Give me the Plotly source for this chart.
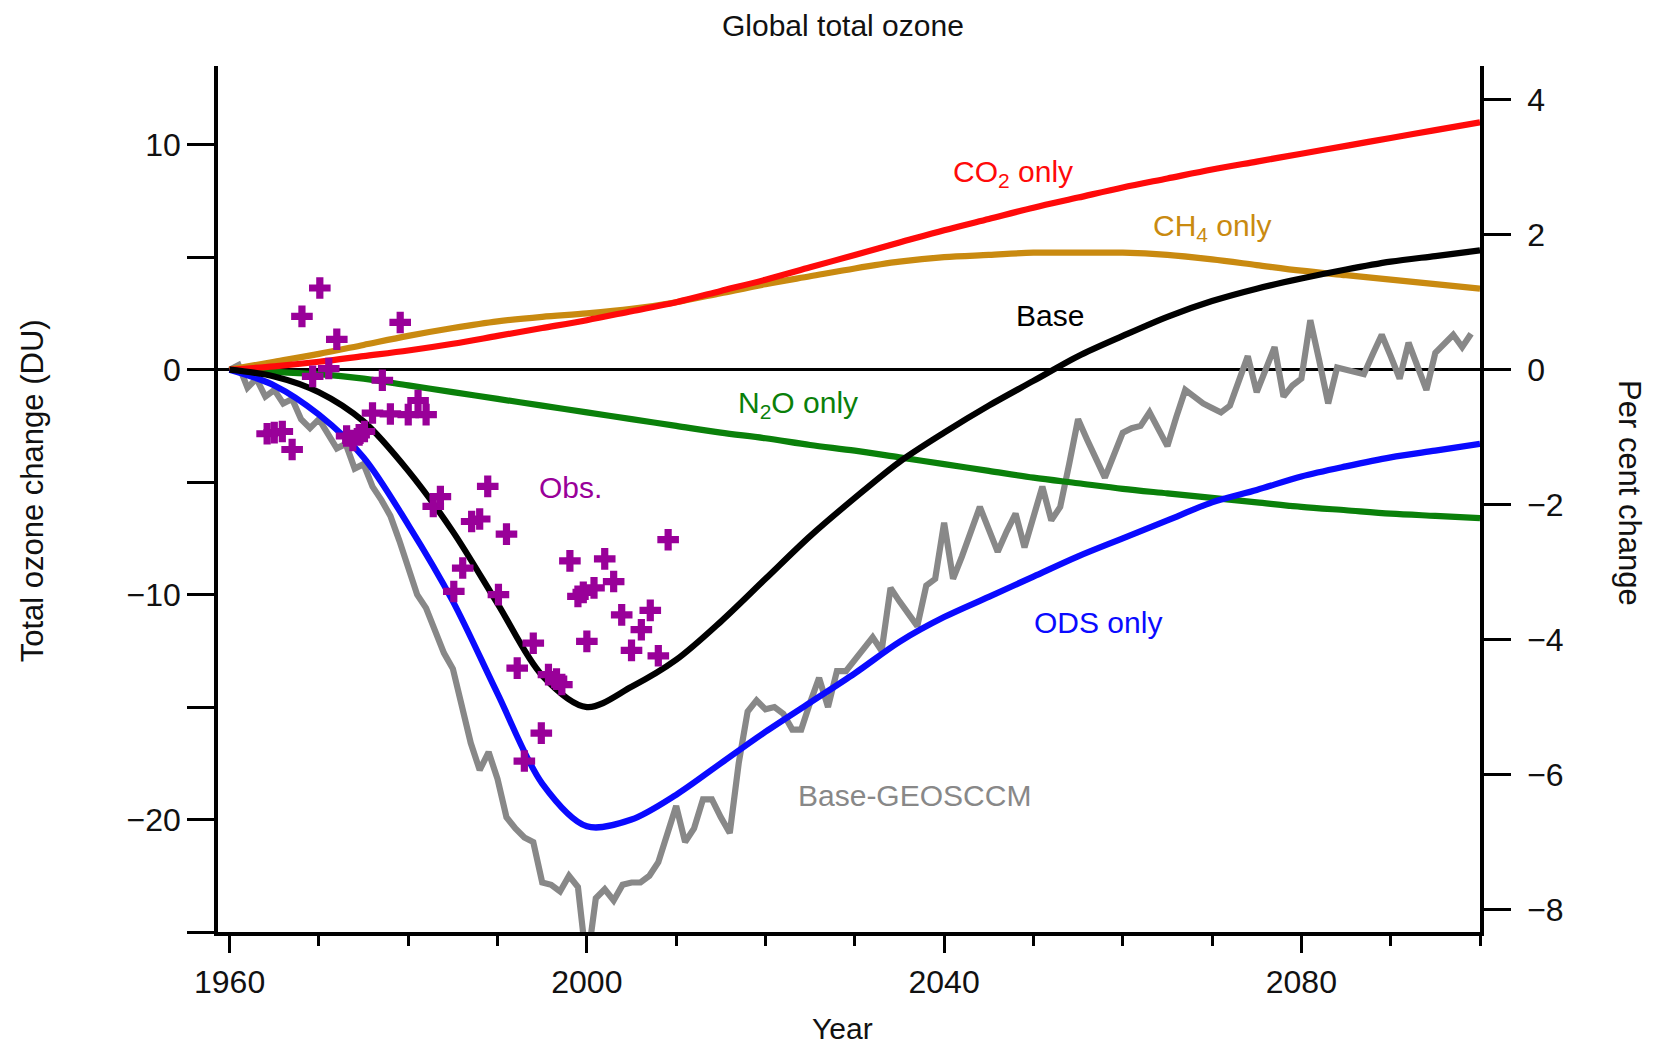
import plotly.graph_objects as go

# ---------------- data ----------------
years5 = list(range(1960, 2101, 5))

base = [0, -0.3, -1.0, -2.3, -4.5, -7.2, -10.4, -13.6, -15.0, -14.1, -12.9, -11.2, -9.3, -7.4,
        -5.7, -4.1, -2.8, -1.6, -0.5, 0.6, 1.5, 2.35, 3.05, 3.6, 4.05, 4.45, 4.8, 5.05, 5.3]
ods_only = [0, -0.7, -2.0, -3.9, -6.9, -10.3, -14.4, -18.4, -20.3, -20.0, -18.9, -17.5, -16.1, -14.8,
            -13.5, -12.1, -11.0, -10.1, -9.2, -8.3, -7.5, -6.7, -5.9, -5.35, -4.75, -4.3, -3.9, -3.6, -3.3]
co2_only = [0, 0.15, 0.35, 0.6, 0.85, 1.15, 1.5, 1.85, 2.2, 2.6, 3.0, 3.5, 4.0, 4.55, 5.1, 5.65,
            6.2, 6.7, 7.2, 7.65, 8.1, 8.5, 8.9, 9.25, 9.6, 9.95, 10.3, 10.65, 11.0]
ch4_only = [0, 0.35, 0.7, 1.1, 1.5, 1.85, 2.15, 2.35, 2.5, 2.7, 3.0, 3.4, 3.8, 4.15, 4.5, 4.8,
            5.0, 5.1, 5.2, 5.2, 5.2, 5.1, 4.9, 4.65, 4.4, 4.2, 4.0, 3.8, 3.6]
n2o_only = [0, -0.1, -0.2, -0.4, -0.7, -1.0, -1.3, -1.6, -1.9, -2.2, -2.5, -2.8, -3.05, -3.35,
            -3.6, -3.9, -4.2, -4.5, -4.8, -5.05, -5.3, -5.5, -5.7, -5.9, -6.1, -6.25, -6.4, -6.5, -6.6]

geos_years = list(range(1960, 2100))
base_geosccm = [
    0.0, 0.2, -0.8, -0.4, -1.2, -0.9, -1.5, -1.3, -2.2, -2.6,
    -2.2, -2.9, -3.5, -3.3, -4.4, -4.2, -5.2, -5.8, -6.5, -7.6,
    -8.8, -10.0, -10.6, -11.6, -12.6, -13.3, -15.0, -16.6, -17.8, -17.0,
    -18.2, -19.9, -20.4, -20.8, -21.0, -22.8, -22.9, -23.2, -22.5, -23.0,
    -26.5, -23.5, -23.1, -23.6, -22.9, -22.8, -22.8, -22.5, -21.9, -20.6,
    -19.4, -21.0, -20.4, -19.1, -19.1, -19.9, -20.6, -17.5, -15.2, -14.7,
    -15.1, -15.0, -15.3, -16.0, -16.0, -14.8, -13.7, -15.0, -13.4, -13.4,
    -12.9, -12.4, -11.9, -12.5, -9.7, -10.3, -10.9, -11.4, -9.6, -9.3,
    -6.8, -9.3, -8.3, -7.2, -6.1, -7.1, -8.1, -7.2, -6.4, -7.9,
    -6.5, -5.2, -6.7, -6.1, -4.2, -2.2, -3.1, -3.9, -4.8, -3.8,
    -2.8, -2.6, -2.5, -1.9, -2.6, -3.4, -2.1, -0.9, -1.2, -1.5,
    -1.7, -1.9, -1.6, -0.4, 0.6, -1.0, 0.0, 1.0, -1.2, -0.7,
    -0.4, 2.2, 0.4, -1.5, 0.1, 0.0, -0.1, -0.2, 0.7, 1.55,
    0.6, -0.4, 1.2, 0.2, -0.9, 0.75, 1.2, 1.55, 1.0, 1.6,
]

obs_year = [1964.2, 1965.0, 1965.9, 1967.0, 1968.1, 1969.3, 1970.1, 1971.1, 1972.0, 1973.1,
            1973.8, 1974.5, 1975.1, 1976.0, 1977.1, 1978.0, 1979.1, 1980.0, 1981.1, 1982.0,
            1982.8, 1983.6, 1985.1, 1986.1, 1987.1, 1988.0, 1988.9, 1990.1, 1991.0, 1992.2,
            1993.0, 1994.0, 1994.9, 1995.7, 1996.6, 1997.2, 1998.1, 1999.0, 1999.6, 2000.0,
            2000.8, 2002.0, 2003.0, 2003.9, 2005.0, 2006.1, 2007.1, 2008.0, 2009.1]
obs_du = [-2.85, -2.8, -2.75, -3.55, 2.37, -0.3, 3.63, 0.05, 1.35, -2.95,
          -3.15, -2.9, -2.75, -1.93, -0.47, -1.97, 2.1, -2.0, -1.37, -2.0,
          -6.08, -5.64, -9.86, -8.82, -6.75, -6.64, -5.19, -10.0, -7.31, -13.27,
          -17.4, -12.16, -16.16, -13.56, -13.76, -14.0, -8.5, -10.08, -9.9, -12.08,
          -9.7, -8.41, -9.42, -10.9, -12.48, -11.56, -10.7, -12.72, -7.56]

x_tickvals = [1960, 2000, 2040, 2080]
y_tickvals = [10, 0, -10, -20]
y2_tickvals = [4, 2, 0, -2, -4, -6, -8]
DU_PER_PERCENT = 3.0

# ---------------- styles ----------------
FONT = "Liberation Sans, Arial, Helvetica, sans-serif"
RED = "#FF0A0A"
ORANGE = "#C98A10"
GREEN = "#0A800A"
BLUE = "#0A0AFF"
GREY = "#888888"
PURPLE = "#990099"
LW = 6.2

fig = go.Figure()

fig.add_trace(go.Scatter(x=geos_years, y=base_geosccm, mode="lines",
                         line=dict(color=GREY, width=LW), showlegend=False))
for vals, col in [(n2o_only, GREEN), (ch4_only, ORANGE), (co2_only, RED),
                  (ods_only, BLUE), (base, "black")]:
    fig.add_trace(go.Scatter(x=years5, y=vals, mode="lines",
                             line=dict(color=col, width=LW, shape="spline", smoothing=0.9),
                             showlegend=False))
fig.add_trace(go.Scatter(x=obs_year, y=obs_du, mode="markers",
                         marker=dict(symbol="cross", size=18, color=PURPLE, line=dict(width=0)),
                         showlegend=False))
# percent axis carrier (invisible)
fig.add_trace(go.Scatter(x=years5, y=[v / DU_PER_PERCENT for v in base], yaxis="y2",
                         mode="lines", line=dict(width=1, color="black"), opacity=0,
                         hoverinfo="skip", showlegend=False))

y_range = [-25, 13.5]

# the page adds an 8 px body margin, so the figure is 16 px smaller than the window
fig.update_layout(
    width=1648, height=1036,
    margin=dict(l=210, r=176, t=58, b=112),
    paper_bgcolor="white", plot_bgcolor="white",
    font=dict(family=FONT, size=31, color="#111111"),
    xaxis=dict(range=[1958.7, 2100], tickvals=x_tickvals, showgrid=False, zeroline=False,
               showline=True, linecolor="black", linewidth=3.5,
               ticks="outside", ticklen=17, tickwidth=3, tickcolor="black",
               ticklabelstandoff=2,
               minor=dict(dtick=10, tick0=1960, ticks="outside", ticklen=10, tickwidth=3,
                          tickcolor="black", showgrid=False),
               tickfont=dict(size=32)),
    yaxis=dict(range=y_range, tickvals=y_tickvals, showgrid=False,
               zeroline=True, zerolinecolor="black", zerolinewidth=2.5,
               showline=True, linecolor="black", linewidth=3.5,
               ticks="outside", ticklen=27, tickwidth=2.5, tickcolor="black",
               ticklabelstandoff=0,
               minor=dict(dtick=5, tick0=0, ticks="outside", ticklen=27, tickwidth=2.5,
                          tickcolor="black", showgrid=False),
               tickfont=dict(size=32)),
    yaxis2=dict(range=[y_range[0] / DU_PER_PERCENT, y_range[1] / DU_PER_PERCENT],
                tickvals=y2_tickvals, overlaying="y", side="right", showgrid=False,
                zeroline=False, showline=True, linecolor="black", linewidth=3.5,
                ticks="outside", ticklen=27, tickwidth=2.5, tickcolor="black",
                ticklabelstandoff=10, tickfont=dict(size=32)),
)

ann = [
    # titles (paper coords)
    dict(text="Global total ozone", x=0.495, y=1.047, xref="paper", yref="paper",
         font=dict(size=30, color="#111111")),
    dict(text="Year", x=0.495, y=-0.112, xref="paper", yref="paper",
         font=dict(size=30, color="#111111")),
    dict(text="Total ozone change (DU)", x=-0.1474, y=0.51, xref="paper", yref="paper",
         textangle=-90, font=dict(size=31, color="#111111")),
    dict(text="Per cent change", x=1.118, y=0.507, xref="paper", yref="paper",
         textangle=90, font=dict(size=31, color="#111111")),
    # series labels (data coords)
    dict(text="CO<sub>2</sub> only", x=2047.7, y=8.7, font=dict(size=30, color=RED)),
    dict(text="CH<sub>4</sub> only", x=2070.0, y=6.3, font=dict(size=30, color=ORANGE)),
    dict(text="Base", x=2051.9, y=2.39, font=dict(size=30, color="black")),
    dict(text="N<sub>2</sub>O only", x=2023.6, y=-1.55, font=dict(size=30, color=GREEN)),
    dict(text="Obs.", x=1998.2, y=-5.24, font=dict(size=30, color=PURPLE)),
    dict(text="ODS only", x=2057.2, y=-11.25, font=dict(size=30, color=BLUE)),
    dict(text="Base-GEOSCCM", x=2036.7, y=-18.95, font=dict(size=30, color=GREY)),
]
for a in ann:
    a.setdefault("xref", "x")
    a.setdefault("yref", "y")
    a.update(showarrow=False, xanchor="center", yanchor="middle")
fig.update_layout(annotations=ann)

fig.write_html("out.html")
